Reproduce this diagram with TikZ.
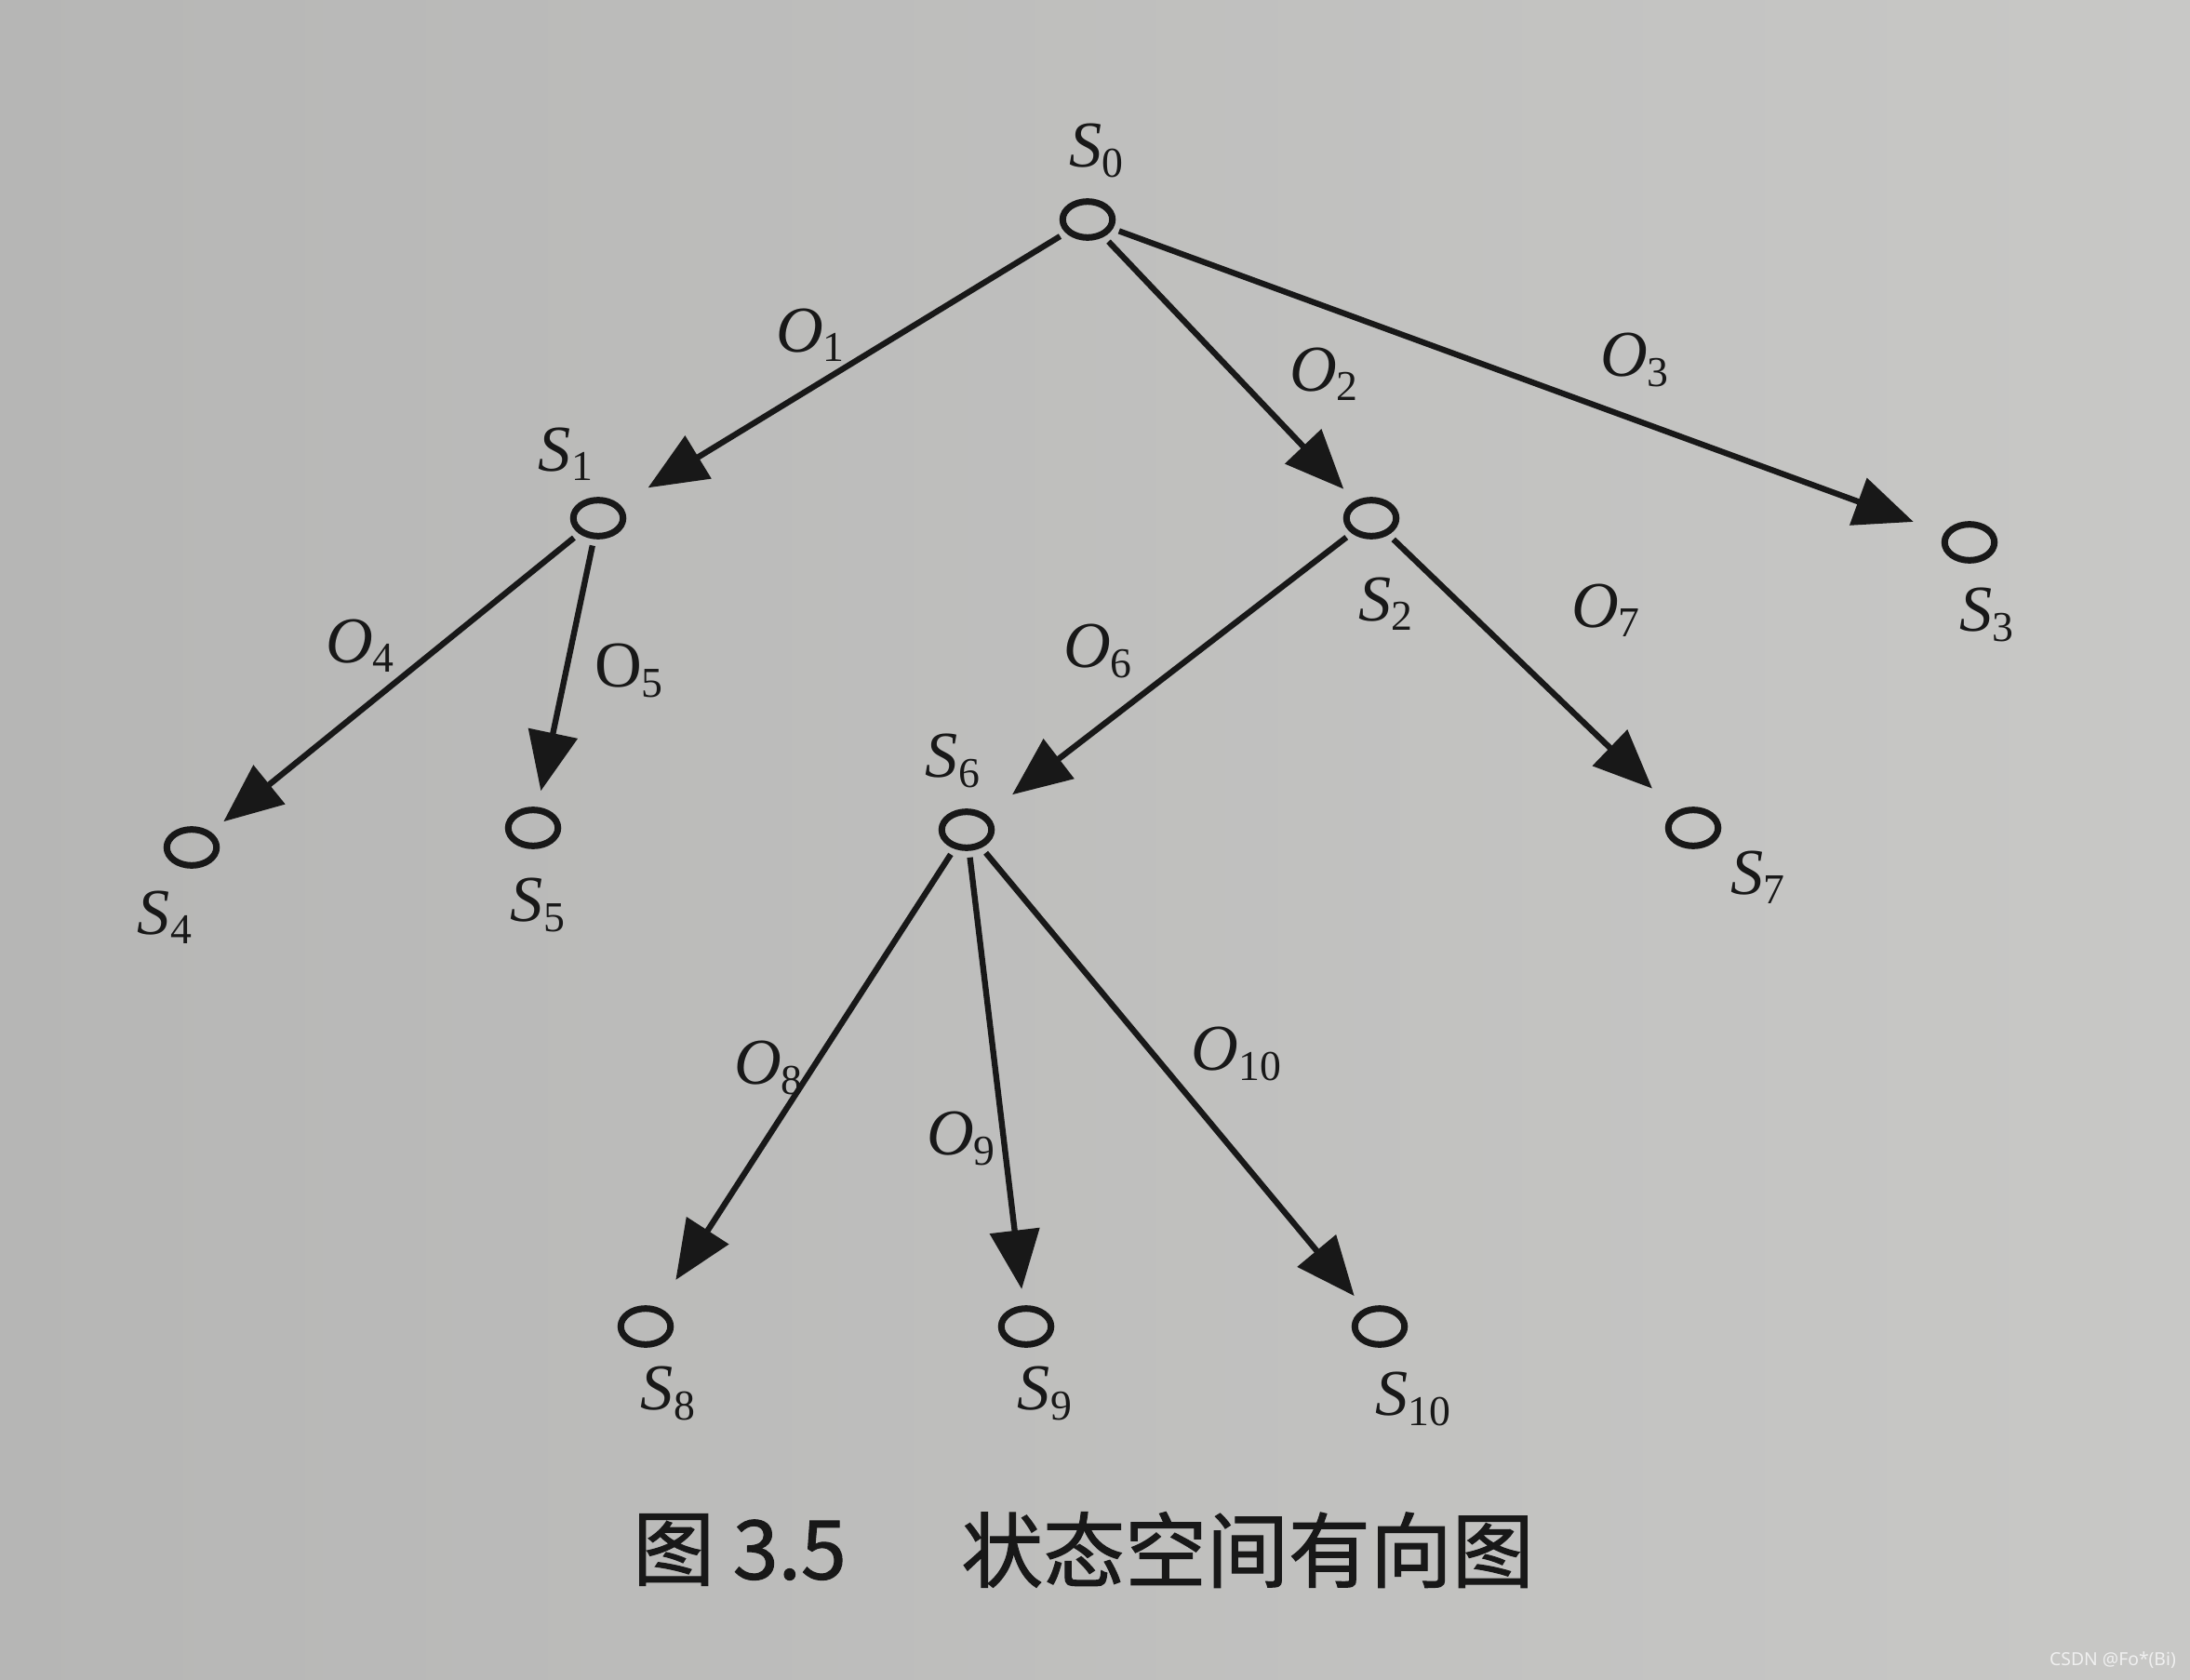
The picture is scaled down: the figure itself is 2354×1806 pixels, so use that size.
\documentclass[tikz,border=0pt]{standalone}
\usepackage{fontspec}
\setmainfont{Liberation Serif}
\newfontfamily\serifit{Liberation Serif}
\newfontfamily\cjk{Noto Sans CJK SC}[FakeBold=1.2]
\newfontfamily\wmfont{Noto Sans}
\usetikzlibrary{arrows.meta,shapes.geometric}
\definecolor{paperL}{RGB}{182,182,181}
\definecolor{paperR}{RGB}{200,200,198}
\definecolor{ink}{RGB}{24,24,24}
\newcommand{\stname}[2]{\textit{#1}\raisebox{-3pt}{\fontsize{13}{13}\selectfont #2}}

\begin{document}
\begin{tikzpicture}[x=0.01cm,y=-0.01cm]
    \tikzset{
        state/.style   = {ellipse, draw=ink, line width=2pt, minimum width=15.2pt,
                          minimum height=11pt, inner sep=0pt},
        oparc/.style   = {draw=ink, line width=1.8pt, -{Triangle[length=18pt,width=15pt]},
                          shorten <=2pt, shorten >=5pt},
        far/.style     = {shorten >=10pt},
        lbl/.style     = {text=ink, font=\serifit\fontsize{20}{24}\selectfont, inner sep=0pt},
        captext/.style = {text=ink, font=\cjk\fontsize{25}{30}\selectfont, inner sep=0pt}
    }
    % page
    \fill[left color=paperL, right color=paperR] (0,0) rectangle (2354,1806);
    % states
    \node[state] (s0)  at (1169,236)  {};
    \node[state] (s1)  at (643,557)   {};
    \node[state] (s2)  at (1474,557)  {};
    \node[state] (s3)  at (2117,583)  {};
    \node[state] (s4)  at (206,911)   {};
    \node[state] (s5)  at (573,890)   {};
    \node[state] (s6)  at (1039,892)  {};
    \node[state] (s7)  at (1820,890)  {};
    \node[state] (s8)  at (694,1426)  {};
    \node[state] (s9)  at (1103,1426) {};
    \node[state] (s10) at (1483,1426) {};
    % state names
    \node[lbl] (ls0)  at (1178,162)  {\stname{S}{0}};
    \node[lbl] (ls1)  at (608,488)   {\stname{S}{1}};
    \node[lbl] (ls2)  at (1489,649)  {\stname{S}{2}};
    \node[lbl] (ls3)  at (2135,661)  {\stname{S}{3}};
    \node[lbl] (ls4)  at (177,986)   {\stname{S}{4}};
    \node[lbl] (ls5)  at (578,973)   {\stname{S}{5}};
    \node[lbl] (ls6)  at (1024,818)  {\stname{S}{6}};
    \node[lbl] (ls7)  at (1889,943)  {\stname{S}{7}};
    \node[lbl] (ls8)  at (718,1498)  {\stname{S}{8}};
    \node[lbl] (ls9)  at (1123,1498) {\stname{S}{9}};
    \node[lbl] (ls10) at (1519,1504) {\stname{S}{10}};
    % operators
    \draw[oparc,far] (s0) -- (s1);
    \draw[oparc]     (s0) -- (s2);
    \draw[oparc,far] (s0) -- (s3);
    \draw[oparc]     (s1) -- (s4);
    \draw[oparc]     (s1) -- (s5);
    \draw[oparc,far] (s2) -- (s6);
    \draw[oparc,far] (s2) -- (s7);
    \draw[oparc,far] (s6) -- (s8);
    \draw[oparc]     (s6) -- (s9);
    \draw[oparc]     (s6) -- (s10);
    \node[lbl] (o1)  at (871,360)   {\stname{O}{1}};
    \node[lbl] (o2)  at (1423,402)  {\stname{O}{2}};
    \node[lbl] (o3)  at (1757,387)  {\stname{O}{3}};
    \node[lbl] (o4)  at (387,694)   {\stname{O}{4}};
    \node[lbl] (o5)  at (676,721)   {O\raisebox{-3pt}{\fontsize{13}{13}\selectfont 5}};
    \node[lbl] (o6)  at (1180,700)  {\stname{O}{6}};
    \node[lbl] (o7)  at (1726,656)  {\stname{O}{7}};
    \node[lbl] (o8)  at (826,1148)  {\stname{O}{8}};
    \node[lbl] (o9)  at (1033,1224) {\stname{O}{9}};
    \node[lbl] (o10) at (1329,1133) {\stname{O}{10}};
    % caption
    \node[captext] (fig)   at (795,1666)  {图 3.5};
    \node[captext] (title) at (1341,1666) {状态空间有向图};
    \node[text=white!88!gray, font=\wmfont\fontsize{5.5}{6}\selectfont, inner sep=0pt]
        (mark) at (2271,1785) {CSDN @Fo*(Bi)};
\end{tikzpicture}
\end{document}
